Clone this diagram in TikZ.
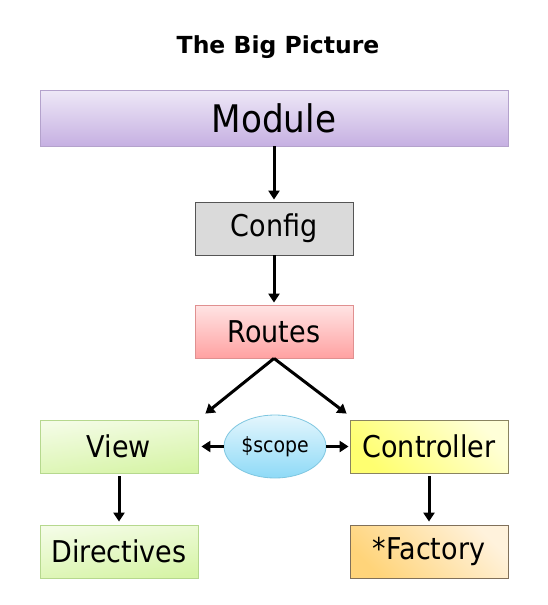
\documentclass[tikz,border=0pt]{standalone}
\usepackage{fontspec}
\setmainfont{DejaVu Sans}[FakeStretch=0.9]
\newfontfamily\titlefont{DejaVu Sans}
\usetikzlibrary{arrows.meta,calc,shapes.geometric}
\definecolor{modtop}{HTML}{EEE8F7}
\definecolor{modbot}{HTML}{C6B0E2}
\definecolor{modbd}{HTML}{B4A2CC}
\definecolor{cfgfill}{HTML}{DADADA}
\definecolor{cfgbd}{HTML}{555555}
\definecolor{rtop}{HTML}{FFE4E4}
\definecolor{rbot}{HTML}{FFA2A2}
\definecolor{rbd}{HTML}{E09090}
\definecolor{gtop}{HTML}{F4FCE6}
\definecolor{gbot}{HTML}{D6F4A6}
\definecolor{gbd}{HTML}{B6D88E}
\definecolor{ytop}{HTML}{FFFFD8}
\definecolor{ybot}{HTML}{FFFF70}
\definecolor{ybd}{HTML}{8A8460}
\definecolor{ftop}{HTML}{FFF2DC}
\definecolor{fbot}{HTML}{FFD47A}
\definecolor{fbd}{HTML}{80705A}
\definecolor{stop}{HTML}{E4F6FD}
\definecolor{sbot}{HTML}{8EDAF7}
\definecolor{sbd}{HTML}{7EC6E0}
\tikzset{
  box/.style={rectangle, draw, line width=0.8pt, minimum width=158pt, minimum height=53pt, inner sep=0pt, font=\fontsize{30}{34}\selectfont},
  arr/.style={line width=3pt, -{Triangle[length=9pt,width=11pt]}},
}
\begin{document}
\begin{tikzpicture}[x=1pt,y=-1pt]
\useasboundingbox (0,0) rectangle (548,605);
\node (title) at (278,47) {\titlefont\fontsize{23.5}{26}\selectfont\bfseries The Big Picture};
\node[box, draw=modbd, top color=modtop, bottom color=modbot, minimum width=468pt, minimum height=56pt, font=\fontsize{38}{42}\selectfont] (module) at (274,118) {Module};
\node[box, draw=cfgbd, fill=cfgfill] (config) at (274,228.5) {Config};
\node[box, draw=rbd, top color=rtop, bottom color=rbot] (routes) at (274,331.5) {Routes};
\node[box, draw=gbd, top color=gtop, bottom color=gbot, shading angle=8] (view) at (119,446.5) {View};
\node[box, draw=gbd, top color=gtop, bottom color=gbot, shading angle=8] (directives) at (119,551.5) {Directives};
\node[box, draw=ybd, top color=ytop, bottom color=ybot, shading angle=-45] (controller) at (429,446.5) {Controller};
\node[box, draw=fbd, top color=ftop, bottom color=fbot, shading angle=-45] (factory) at (429,551.5) {*Factory};
\node[ellipse, draw=sbd, line width=0.8pt, top color=stop, bottom color=sbot, minimum width=102pt, minimum height=63pt, inner sep=0pt, font=\fontsize{21}{24}\selectfont] (scope) at (275,446.5) {\$scope};
\draw[arr] (module.south) -- ($(config.north)+(0,-2)$);
\draw[arr] (config.south) -- ($(routes.north)+(0,-2)$);
\draw[arr] (routes.south) -- ($(view.north east)+(7,-6)$);
\draw[arr] (routes.south) -- ($(controller.north west)+(-3,-6)$);
\draw[arr] (scope.west) -- ($(view.east)+(3,0)$);
\draw[arr] (scope.east) -- ($(controller.west)+(-1,0)$);
\draw[arr] ($(view.south)+(0,3)$) -- ($(directives.north)+(0,-3)$);
\draw[arr] ($(controller.south)+(0,3)$) -- ($(factory.north)+(0,-3)$);
\end{tikzpicture}
\end{document}
